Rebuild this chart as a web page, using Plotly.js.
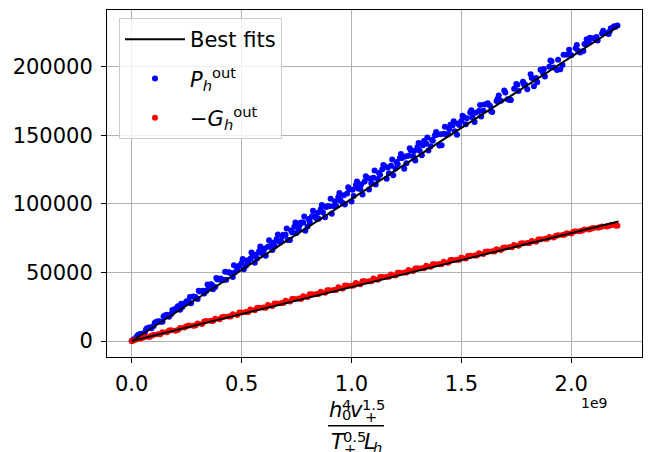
<!DOCTYPE html>
<html><head><meta charset="utf-8">
<script src="https://cdn.plot.ly/plotly-3.0.1.min.js"></script>
<style>html,body{margin:0;padding:0;background:#fff}#chart{width:657px;height:452px}</style>
</head><body><div id="chart"></div>
<script>
// x values are in units of 1e9 (axis offset label "1e9")
const xGridA = [
 0.00,0.02,0.04,0.06,0.08,0.10,0.12,0.14,0.16,0.18,
 0.20,0.22,0.24,0.26,0.28,0.30,0.32,0.34,0.36,0.38,
 0.40,0.42,0.44,0.46,0.48,0.50,0.52,0.54,0.56,0.58,
 0.60,0.62,0.64,0.66,0.68,0.70,0.72,0.74,0.76,0.78,
 0.80,0.82,0.84,0.86,0.88,0.90,0.92,0.94,0.96,0.98,
 1.00,1.02,1.04,1.06,1.08,1.10,1.12,1.14,1.16,1.18,
 1.20,1.22,1.24,1.26,1.28,1.30,1.32,1.34,1.36,1.38,
 1.40,1.42,1.44,1.46,1.48,1.50,1.52,1.54,1.56,1.58,
 1.60,1.62,1.64,1.66,1.68,1.70,1.72,1.74,1.76,1.78,
 1.80,1.82,1.84,1.86,1.88,1.90,1.92,1.94,1.96,1.98,
 2.00,2.02,2.04,2.06,2.08,2.10,2.12,2.14,2.16,2.18,
 2.20,2.21];
const pOutA = [
 0,2600,5100,6200,9800,10900,14400,14000,19100,19700,
 23700,22800,27400,27900,32500,30600,36200,36700,41300,39400,
 44900,44500,50100,46700,52700,56800,54900,59900,57000,65600,
 64200,68700,66300,74400,72500,77500,73600,83200,81700,86300,
 83400,91000,89500,96100,90200,98200,98300,104900,100500,107500,
 101600,113700,110700,116300,110400,119000,118000,125100,118200,127800,
 125800,133400,125500,135000,134600,141200,135300,143800,141900,150000,
 142500,151100,150700,157300,150300,160400,158000,166500,159600,167700,
 167800,173300,166900,175000,175100,181100,175700,183800,182300,188900,
 183500,191600,191600,197700,192800,199800,199400,205000,201100,208600,
 208200,213300,210300,216400,217500,220600,219100,224200,224300,227900,
 228900,230000];
const xP_B = [
 0.01,0.03,0.05,0.07,0.09,0.11,0.13,0.15,0.17,0.19,
 0.21,0.23,0.25,0.27,0.29,0.31,0.33,0.35,0.37,0.39,
 0.41,0.43,0.45,0.47,0.49,0.51,0.53,0.55,0.57,0.59,
 0.61,0.63,0.65,0.67,0.69,0.71,0.73,0.75,0.77,0.79,
 0.81,0.83,0.85,0.87,0.89,0.91,0.93,0.95,0.97,0.99,
 1.01,1.03,1.05,1.07,1.09,1.11,1.13,1.15,1.17,1.19,
 1.21,1.23,1.25,1.27,1.29,1.31,1.33,1.35,1.37,1.39,
 1.41,1.43,1.45,1.47,1.49,
 1.51,1.55,1.59,1.63,1.67,1.71,1.75,1.79,1.83,1.87,1.91,1.95,1.99,2.03,2.07,
 2.11,2.17];
const pOutB = [
 1300,4600,4900,9300,9300,13900,14000,18500,17600,21700,
 25300,24800,28900,27500,32000,36100,34700,38800,37800,44900,
 44500,44600,49600,50200,54800,52300,57400,62000,60100,64100,
 62200,69300,68800,72400,77500,73600,79100,78700,86300,80300,
 86900,90500,89100,93600,98200,92800,98400,102400,99500,110600,
 105600,111200,106800,118900,114900,114000,121100,127600,122200,120800,
 128900,133400,129500,139100,131600,138700,145800,138900,145900,150500,
 142600,150700,157700,152800,157400,
 163400,163100,163700,171400,179000,176200,187300,186900,185600,195700,203900,198000,212200,211800,220000,
 219600,223800];
const xP_C = [
 0.005,0.025,0.045,0.065,0.085,0.105,0.125,0.145,0.165,0.185,
 0.205,0.225,0.245,0.265,0.285,0.305,0.325,0.345,0.365,0.385,
 0.405,0.425,0.445,0.465,0.485,0.505,0.525,0.545,0.565,0.585,
 0.605,0.625,0.645,0.665,0.685,0.705,0.725,0.745,0.765,0.785,
 0.805,0.825,0.845,0.865,0.885,0.905,0.925,0.945,0.965,0.985,
 1.005,1.025,1.045,1.065,1.085,1.105,1.125,1.145,1.165,1.185,
 1.205,1.225,1.245,1.265,1.285,1.305,1.325,1.345,1.365,1.385,
 1.405,1.425,1.445,1.465,1.485,1.505,1.525,1.545,1.565,1.585,
 1.605,1.635,1.665,1.695,1.725,1.755,1.785,1.815,1.845,1.875,
 1.905,1.935,1.965,1.995,2.025,2.055,2.085,2.115,2.145,2.175,2.195];
const pOutC = [
 800,3600,5300,8300,9800,13100,14300,17800,18700,22600,
 23200,27200,27700,32000,32100,36600,36700,41200,41000,45900,
 45500,50500,49900,55200,54300,59800,58700,64500,63000,68900,
 67400,73400,71800,77700,76200,82000,80500,86400,84800,90700,
 89000,95000,93300,99200,97700,103600,101800,107900,106200,112100,
 110300,116200,114300,120100,118400,124300,122400,128200,126500,132300,
 130400,136300,134500,140400,138500,144400,142600,148300,146600,152300,
 150600,156200,154500,160200,158500,164100,162400,168100,166300,172000,
 172300,167400,176500,182600,175700,186800,186900,194500,188600,198300,
 204400,197500,208600,208700,215800,211400,221000,221600,226200,225800,229400];
const gOutA = [
 0,1100,1600,2900,2900,4600,5000,6300,6300,7800,
 7500,9500,9800,11300,11100,12700,12400,14500,14700,16300,
 15800,17600,17900,19500,19000,20800,21100,22900,22400,24200,
 24400,26200,25600,27400,27600,29400,28700,30700,30900,32700,
 32000,34000,34200,35900,35100,37000,37200,39100,38300,40300,
 40300,42200,41400,43500,43600,45500,44700,46600,46800,48500,
 47700,49700,49900,51700,51000,53000,53000,54800,54100,56000,
 56200,57800,57100,59000,59200,60900,60200,62200,62400,64000,
 63400,65200,65400,66900,66300,68200,68500,69900,69400,71200,
 71500,72900,72400,74200,74500,75800,75400,77100,77300,78600,
 78400,80000,80000,81300,81200,82400,82500,83500,83500,84500,
 84100,84000];
const xG_B = [
 0.01,0.05,0.09,0.13,0.17,0.21,0.25,0.29,0.33,0.37,
 0.41,0.45,0.49,0.53,0.57,0.61,0.65,0.69,0.73,0.77,
 0.81,0.85,0.89,0.93,0.97,1.01,1.05,1.09,1.13,1.17,
 1.21,1.25,1.29,1.33,1.37,1.41,1.45,1.49,1.53,1.57,
 1.61,1.65,1.69,1.73,1.77,1.81,1.85,1.89,1.93,1.97,
 2.01,2.05,2.09,2.13,2.17];
const gOutB = [
 400,2400,3800,4900,7600,8100,10800,11300,14200,14600,
 17400,17900,20700,21200,24100,24300,27300,27700,30600,30700,
 34000,34200,37000,37100,40400,40400,43600,43500,46700,46800,
 49700,49900,52900,53000,56000,56000,59000,59300,62000,62400,
 65100,65300,68000,68400,71000,71500,74000,74500,76800,77600,
 79600,80600,81800,82900,83900];
// best-fit line endpoints
const fitX = [0, 2.215];
const fitP = [0, 229400];
const fitG = [0, 87100];

const xTickVals = [0, 0.5, 1.0, 1.5, 2.0];
const xTickText = ['0.0', '0.5', '1.0', '1.5', '2.0'];
const yTickVals = [0, 50000, 100000, 150000, 200000];
const yTickText = ['0', '50000', '100000', '150000', '200000'];

const W = 657, H = 452, ML = 107, MR = 15, MT = 10, MB = 95;
const PW = W - ML - MR, PH = H - MT - MB;
const FONT = 'DejaVu Sans, Verdana, sans-serif';
function px(x) { return (x - ML) / PW; }
function py(y) { return (H - MB - y) / PH; }
function ann(text, x, baseline, size, xa) {
  return {xref: 'paper', yref: 'paper', x: px(x), y: py(baseline - 0.35 * size),
    xanchor: xa || 'left', yanchor: 'middle', showarrow: false, text: text,
    font: {family: FONT, size: size, color: '#000'}, borderpad: 0};
}
const S = 21, s = 14.7;

const traces = [
  {x: xGridA.concat(xP_B, xP_C), y: pOutA.concat(pOutB, pOutC), mode: 'markers', type: 'scatter',
   name: '<i>P</i><sub><i>h</i></sub><sup>out</sup>', legendrank: 2, legendgroup: 'p',
   marker: {color: '#0000ff', size: 6}},
  {x: xGridA.concat(xG_B), y: gOutA.concat(gOutB), mode: 'markers', type: 'scatter',
   name: '−<i>G</i><sub><i>h</i></sub><sup>out</sup>', legendrank: 3, legendgroup: 'g',
   marker: {color: '#ff0000', size: 6}},
  {x: fitX.concat([null]).concat(fitX), y: fitP.concat([null]).concat(fitG),
   mode: 'lines', type: 'scatter', name: 'Best fits', legendrank: 1, legendgroup: 'f',
   line: {color: '#000', width: 2}}
];

const axisCommon = {
  showgrid: true, gridcolor: '#b0b0b0', gridwidth: 1, zeroline: false,
  showline: true, linecolor: '#000', linewidth: 1, mirror: true,
  ticks: 'outside', ticklen: 5, tickwidth: 1, tickcolor: '#000',
  tickfont: {family: FONT, size: S, color: '#000'}
};

const layout = {
  width: W, height: H, margin: {l: ML, r: MR, t: MT, b: MB},
  paper_bgcolor: '#fff', plot_bgcolor: '#fff', showlegend: true,
  font: {family: FONT, color: '#000'},
  xaxis: Object.assign({}, axisCommon, {range: [-0.1124, 2.3217], tickmode: 'array',
    tickvals: xTickVals, ticktext: xTickText, ticklabelstandoff: 3}),
  yaxis: Object.assign({}, axisCommon, {range: [-11660, 241250], tickmode: 'array',
    tickvals: yTickVals, ticktext: yTickText, ticklabelstandoff: 4}),
  legend: {x: px(119), y: py(18), xanchor: 'left', yanchor: 'top',
    bgcolor: 'rgba(255,255,255,0.8)', bordercolor: '#cccccc', borderwidth: 1,
    font: {family: FONT, size: S, color: '#000'}, traceorder: 'grouped', tracegroupgap: 9,
    itemwidth: 60},
  annotations: [
    ann('1e9', 608, 408, 14, 'right'),
    // numerator h_0^4 v_+^1.5
    ann('<i>h</i>', 328, 417, S),
    ann('4', 341, 409.5, s),
    ann('0', 341, 420, s),
    ann('<i>v</i>', 349, 417, S),
    ann('1.5', 361, 409.5, s),
    ann('+', 364, 421.5, s),
    // denominator T_+^0.5 L_h
    ann('<i>T</i>', 330, 449.5, S),
    ann('0.5', 342, 442, s),
    ann('+', 343, 453.5, s),
    ann('<i>L</i>', 363, 449.5, S),
    ann('<i>h</i>', 372, 452.5, s)
  ],
  shapes: [
    {type: 'line', xref: 'paper', yref: 'paper', x0: px(328), x1: px(384), y0: py(425.7), y1: py(425.7),
     line: {color: '#000', width: 1.5}}
  ]
};

Plotly.newPlot('chart', traces, layout, {displayModeBar: false, staticPlot: true});
</script></body></html>
